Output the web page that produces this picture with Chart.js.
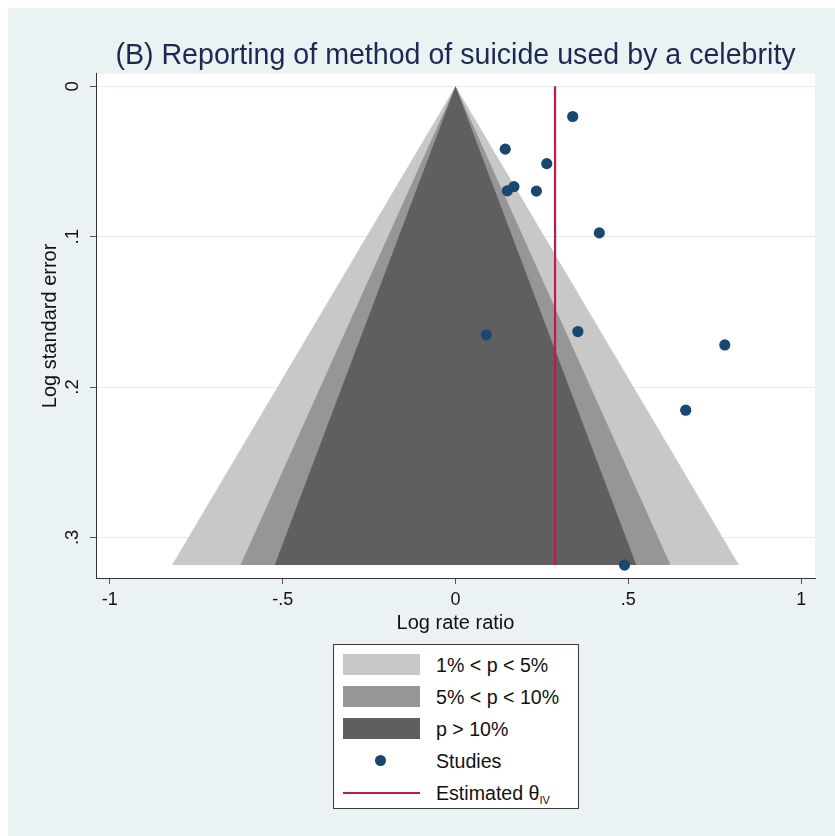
<!DOCTYPE html>
<html>
<head>
<meta charset="utf-8">
<script src="https://cdn.jsdelivr.net/npm/chart.js@4.4.1/dist/chart.umd.min.js"></script>
<style>
  html, body { margin: 0; padding: 0; background: #ffffff; }
  #frame { position: absolute; left: 8px; top: 8px; width: 827px; height: 828px; background: #EAF2F3; }
  #wrap { position: absolute; left: 0; top: 0; width: 835px; height: 836px; }
  #legend { position: absolute; left: 333px; top: 644px; width: 244px; height: 163px;
            background: #ffffff; border: 1px solid #3a3a3a;
            font-family: "Liberation Sans", Arial, Helvetica, sans-serif; font-size: 19.6px; color: #111; }
  .item { position: absolute; left: 0; width: 244px; height: 30px; }
  .sw { position: absolute; left: 9px; width: 77px; }
  .lab { position: absolute; left: 102px; top: 0; line-height: 30px; white-space: nowrap; }
  sub { font-size: 11px; vertical-align: -4px; line-height: 0; }
</style>
</head>
<body>
<div id="frame"></div>
<div id="wrap"><canvas id="c" width="835" height="836"></canvas></div>
<div id="legend"></div>
<script>
// ---- data ----
const studyLogRR = [0.339, 0.144, 0.264, 0.169, 0.150, 0.234, 0.416, 0.089, 0.354, 0.779, 0.666, 0.489];
const studyLogSE = [0.0201, 0.0418, 0.0514, 0.0667, 0.0695, 0.0697, 0.0975, 0.1653, 0.1631, 0.1720, 0.2154, 0.3184];
const thetaIV = 0.288;
const funnelBaseSE = 0.3184;
const funnelLabels = ["1% < p < 5%", "5% < p < 10%", "p > 10%"];
const funnelHalfWidths = [0.820, 0.622, 0.523];
const xTickValues = [-1, -0.5, 0, 0.5, 1];
const yTickValues = [0, 0.1, 0.2, 0.3];
const titleText = "(B) Reporting of method of suicide used by a celebrity";
const xTitle = "Log rate ratio";
const yTitle = "Log standard error";
const studiesLabel = "Studies";
const lineLabel = "Estimated θ";
const lineSub = "IV";

// ---- styles ----
const funnelColors = ["#C8C8C8", "#969696", "#5F5F5F"];
const pointColor = "#1A476F";
const lineColor = "#C41A42";
const fontFam = '"Liberation Sans", Arial, Helvetica, sans-serif';

function fmt(v) {
  if (v === 0) return "0";
  let s = String(Math.round(v * 100) / 100);
  return s.replace(/^0\./, ".").replace(/^-0\./, "-.");
}

const datasets = [];
funnelHalfWidths.forEach((w, i) => {
  datasets.push({
    label: funnelLabels[i],
    data: [{x: -w, y: funnelBaseSE}, {x: 0, y: 0}, {x: w, y: funnelBaseSE}],
    showLine: true,
    borderWidth: 0,
    borderColor: funnelColors[i],
    backgroundColor: funnelColors[i],
    pointRadius: 0,
    fill: {value: funnelBaseSE},
    order: 10 - i
  });
});
datasets.push({
  label: lineLabel,
  data: [{x: thetaIV, y: 0}, {x: thetaIV, y: funnelBaseSE}],
  showLine: true,
  borderColor: lineColor,
  borderWidth: 2.2,
  pointRadius: 0,
  fill: false,
  order: 2
});
datasets.push({
  label: studiesLabel,
  data: studyLogRR.map((x, i) => ({x: x, y: studyLogSE[i]})),
  showLine: false,
  backgroundColor: pointColor,
  borderColor: pointColor,
  borderWidth: 0,
  pointRadius: 5.6,
  order: 1
});

const whiteArea = {
  id: "whiteArea",
  beforeDraw(chart) {
    const {ctx, chartArea: a} = chart;
    ctx.save();
    ctx.fillStyle = "#ffffff";
    ctx.fillRect(a.left, a.top, a.right - a.left, a.bottom - a.top);
    ctx.restore();
  }
};

new Chart(document.getElementById("c"), {
  type: "scatter",
  data: {datasets},
  plugins: [whiteArea],
  options: {
    responsive: false,
    animation: false,
    layout: {padding: {left: 30, right: 20, top: 10, bottom: 198}},
    plugins: {
      legend: {display: false},
      tooltip: {enabled: false},
      title: {
        display: true, text: titleText, fullSize: false, position: "top",
        color: "#1c2a52",
        font: {family: fontFam, size: 28.6, weight: "normal", lineHeight: 1.2},
        padding: {top: 28.5, bottom: 1}
      }
    },
    scales: {
      x: {
        type: "linear", min: -1.04, max: 1.04,
        afterBuildTicks: s => { s.ticks = xTickValues.map(v => ({value: v})); },
        afterFit: s => { s.height = 60; },
        ticks: {callback: v => fmt(v), color: "#111", padding: 5, maxRotation: 0, minRotation: 0,
                font: {family: fontFam, size: 18}},
        grid: {drawOnChartArea: false, tickLength: 6, tickColor: "#555", tickWidth: 1},
        border: {display: true, color: "#333", width: 1},
        title: {display: true, text: xTitle, color: "#111", padding: {top: 0, bottom: 3},
                font: {family: fontFam, size: 20, lineHeight: 1.2}}
      },
      y: {
        type: "linear", reverse: true, min: -0.0083, max: 0.327,
        afterBuildTicks: s => { s.ticks = yTickValues.map(v => ({value: v})); },
        afterFit: s => { s.width = 66; },
        ticks: {callback: v => fmt(v), color: "#111", padding: 9, minRotation: 90, maxRotation: 90,
                crossAlign: "center", font: {family: fontFam, size: 18.5}},
        grid: {color: "#E4ECEE", lineWidth: 1, tickLength: 6, tickColor: "#555", tickWidth: 1},
        border: {display: true, color: "#333", width: 1},
        title: {display: true, text: yTitle, color: "#111", padding: {top: 8, bottom: 0},
                font: {family: fontFam, size: 20, lineHeight: 1.2}}
      }
    }
  }
});

// ---- legend built from the same series ----
const leg = document.getElementById("legend");
const rowTops = [5, 37, 69, 101, 133];
function addRow(i, swatchHtml, labelHtml) {
  const d = document.createElement("div");
  d.className = "item";
  d.style.top = rowTops[i] + "px";
  d.innerHTML = swatchHtml + '<span class="lab">' + labelHtml + '</span>';
  leg.appendChild(d);
}
funnelLabels.forEach((lab, i) => {
  addRow(i, '<div class="sw" style="top:4px;height:21px;background:' + funnelColors[i] + '"></div>',
    lab.replace(/</g, "&lt;").replace(/>/g, "&gt;"));
});
addRow(3, '<div style="position:absolute;left:41px;top:9px;width:11px;height:11px;border-radius:50%;background:' + pointColor + '"></div>', studiesLabel);
addRow(4, '<div class="sw" style="top:14px;height:2px;background:' + lineColor + '"></div>', lineLabel + '<sub>' + lineSub + '</sub>');
</script>
</body>
</html>
